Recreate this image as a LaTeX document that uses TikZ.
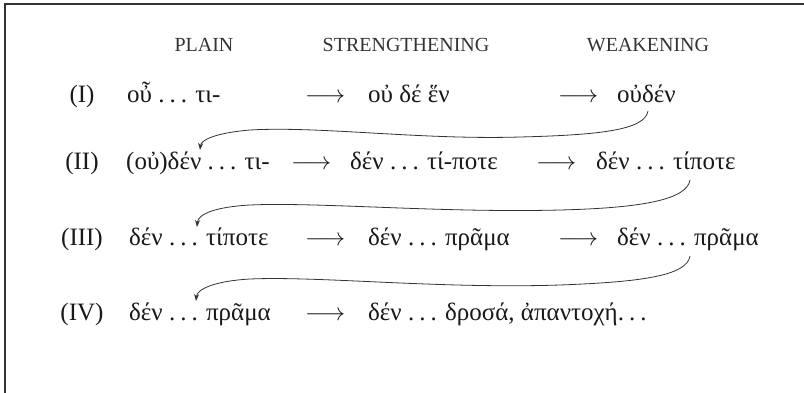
\documentclass[tikz,border=0pt]{standalone}
\usepackage{fontspec}
\usetikzlibrary{arrows.meta}
\setmainfont{Liberation Serif}
\newcommand\dts{.\kern0.2em.\kern0.2em.}
\begin{document}
\begin{tikzpicture}[x=1pt,y=-1pt,
  hdr/.style={anchor=base,font=\fontsize{20}{23}\selectfont,text=black!80},
  lbl/.style={anchor=base,font=\fontsize{25}{28}\selectfont,text=black!90},
  grk/.style={anchor=base west,font=\fontsize{25}{28}\selectfont,text=black!90,inner sep=0pt},
  arr/.style={anchor=base west,font=\fontsize{25}{28}\selectfont,text=black!90,inner sep=0pt},
  curve/.style={draw=black!80,line width=0.8pt,-{Stealth[length=7pt,width=5pt]}},
  frame/.style={draw=black!80,line width=2pt}]
\useasboundingbox (0,0) rectangle (804,393);
\draw[frame] (5,393) -- (5,4) -- (804,4);
% headers
\node[hdr] (h1) at (204,52) {PLAIN};
\node[hdr] (h2) at (406,52) {STRENGTHENING};
\node[hdr] (h3) at (648,52) {WEAKENING};
% row I
\node[lbl] (l1) at (82,103) {(I)};
\node[grk] (a1) at (127,103) {οὖ \dts{} τι-};
\node[arr] (p1) at (305,103) {$\longrightarrow$};
\node[grk] (b1) at (368,103) {οὐ δέ ἕν};
\node[arr] (q1) at (558,103) {$\longrightarrow$};
\node[grk] (c1) at (617,103) {οὐδέν};
% row II
\node[lbl] (l2) at (82,170) {(II)};
\node[grk] (a2) at (126,170) {(οὐ)δέν \dts{} τι-};
\node[arr] (p2) at (291,170) {$\longrightarrow$};
\node[grk] (b2) at (350,170) {δέν \dts{} τί-ποτε};
\node[arr] (q2) at (536,170) {$\longrightarrow$};
\node[grk] (c2) at (596,170) {δέν \dts{} τίποτε};
% row III
\node[lbl] (l3) at (82,246) {(III)};
\node[grk] (a3) at (129,246) {δέν \dts{} τίποτε};
\node[arr] (p3) at (305,246) {$\longrightarrow$};
\node[grk] (b3) at (368,246) {δέν \dts{} πρᾶμα};
\node[arr] (q3) at (558,246) {$\longrightarrow$};
\node[grk] (c3) at (617,246) {δέν \dts{} πρᾶμα};
% row IV
\node[lbl] (l4) at (82,320) {(IV)};
\node[grk] (a4) at (129,320) {δέν \dts{} πρᾶμα};
\node[arr] (p4) at (305,320) {$\longrightarrow$};
\node[grk] (b4) at (368,320) {δέν \dts{} δροσά, ἀπαντοχή\dts};
% curved arrows
\coordinate (s1) at (648,111);
\coordinate (e1) at (200,150);
\coordinate (s2) at (690,180);
\coordinate (e2) at (197,227);
\coordinate (s3) at (690,256);
\coordinate (e3) at (196,301);
\draw[curve] (s1) .. controls (645,130) and (600,135) .. (520,137)
  .. controls (420,140) and (320,126) .. (250,130)
  .. controls (215,133) and (201,140) .. (e1);
\draw[curve] (s2) .. controls (687,200) and (640,208) .. (560,210)
  .. controls (440,213) and (320,202) .. (250,205)
  .. controls (215,207) and (198,214) .. (e2);
\draw[curve] (s3) .. controls (687,276) and (640,282) .. (560,285)
  .. controls (440,289) and (320,276) .. (250,279)
  .. controls (215,281) and (197,289) .. (e3);
\end{tikzpicture}
\end{document}
